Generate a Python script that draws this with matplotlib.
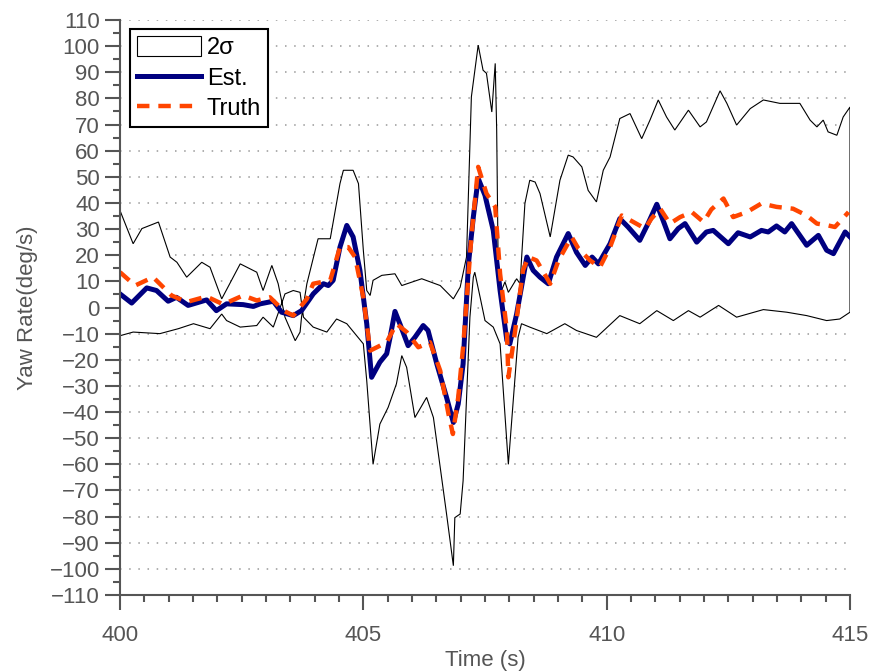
import matplotlib
matplotlib.use("Agg")
import matplotlib.pyplot as plt
from matplotlib.ticker import MultipleLocator

# ---------------- data ----------------
upper_t = [400.00, 400.27, 400.45, 400.79, 401.03, 401.17, 401.37, 401.68, 401.85, 402.09,
           402.47, 402.81, 402.94, 403.12, 403.25, 403.39, 403.60, 403.70, 403.73, 403.84,
           404.07, 404.32, 404.52, 404.59, 404.79, 404.90, 405.00, 405.07, 405.14, 405.20,
           405.38, 405.65, 405.79, 406.20, 406.58, 406.75, 406.85, 406.99, 407.12, 407.22,
           407.36, 407.46, 407.53, 407.64, 407.71, 407.74, 407.77, 407.84, 407.91, 407.98,
           408.15, 408.22, 408.32, 408.42, 408.53, 408.63, 408.84, 409.04, 409.21, 409.31,
           409.49, 409.62, 409.79, 409.93, 410.07, 410.27, 410.48, 410.72, 410.89, 411.06,
           411.23, 411.40, 411.68, 411.92, 412.05, 412.33, 412.47, 412.67, 412.95, 413.22,
           413.56, 413.97, 414.18, 414.32, 414.45, 414.55, 414.73, 414.86, 415.00]
upper_v = [37.1, 24.4, 30.2, 32.7, 19.3, 17.3, 11.6, 17.3, 15.4, 3.3,
           16.7, 13.5, 6.5, 16.1, 9.1, -3.7, -12.7, -9.4, -3.7, 9.1,
           26.3, 26.3, 47.4, 52.5, 52.5, 47.4, 21.9, 6.5, 4.6, 10.4,
           12.3, 12.9, 8.4, 11.0, 8.4, 5.2, 3.3, 7.8, 19.3, 80.6,
           100.4, 90.8, 89.6, 74.8, 93.4, 67.9, 16.7, 6.5, 9.8, 5.8,
           11.0, 9.1, 39.8, 48.7, 48.0, 43.6, 27.0, 48.7, 58.3, 57.6,
           53.8, 44.8, 40.4, 52.5, 57.6, 72.3, 74.2, 64.6, 71.7, 79.4,
           72.9, 67.9, 75.5, 69.1, 71.0, 82.9, 78.1, 69.8, 76.1, 79.4,
           78.1, 78.1, 71.7, 69.1, 71.7, 67.2, 65.9, 72.9, 76.7]

lower_t = [400.00, 400.27, 400.82, 401.20, 401.51, 401.85, 402.09, 402.19, 402.47, 402.81,
           402.94, 403.15, 403.39, 403.56, 403.70, 403.77, 403.97, 404.25, 404.45, 404.66,
           405.00, 405.07, 405.20, 405.34, 405.51, 405.68, 405.79, 405.89, 406.06, 406.30,
           406.44, 406.58, 406.71, 406.85, 406.88, 406.99, 407.05, 407.19, 407.26, 407.29,
           407.40, 407.50, 407.67, 407.81, 407.98, 408.18, 408.25, 408.42, 408.77, 409.14,
           409.38, 409.79, 410.27, 410.68, 411.03, 411.37, 411.68, 411.92, 412.30, 412.67,
           413.22, 413.70, 414.11, 414.52, 414.79, 415.00]
lower_v = [-10.8, -9.4, -10.0, -8.1, -6.2, -8.1, -2.5, -5.0, -7.5, -6.9,
           -3.7, -7.5, 5.2, 6.5, 5.8, -3.7, -7.5, -9.4, -4.4, -6.2,
           -13.9, -28.0, -60.0, -44.6, -38.2, -29.2, -18.4, -22.9, -42.1, -34.4,
           -42.1, -61.2, -79.0, -98.8, -80.4, -79.0, -66.3, -3.7, 11.6, 13.5,
           3.9, -5.0, -7.5, -13.9, -60.0, -11.4, -6.2, -7.5, -10.0, -6.2,
           -8.8, -11.4, -3.1, -6.2, -1.2, -5.0, -1.2, -3.7, 0.8, -3.7,
           -0.8, -1.8, -3.1, -5.0, -4.4, -1.8]

est_t = [400.00, 400.24, 400.55, 400.75, 400.99, 401.16, 401.40, 401.78, 401.98, 402.19,
         402.53, 402.74, 402.88, 403.15, 403.32, 403.56, 403.73, 403.90, 403.97, 404.18,
         404.28, 404.38, 404.52, 404.66, 404.79, 404.93, 405.07, 405.17, 405.34, 405.48,
         405.55, 405.65, 405.75, 405.92, 406.06, 406.23, 406.33, 406.51, 406.71, 406.85,
         406.95, 407.05, 407.16, 407.26, 407.36, 407.50, 407.67, 407.81, 407.95, 408.01,
         408.15, 408.36, 408.49, 408.63, 408.80, 408.97, 409.21, 409.38, 409.56, 409.70,
         409.83, 410.07, 410.27, 410.44, 410.68, 410.85, 411.03, 411.16, 411.30, 411.47,
         411.61, 411.85, 412.05, 412.19, 412.50, 412.70, 412.95, 413.18, 413.32, 413.49,
         413.66, 413.80, 414.11, 414.35, 414.52, 414.66, 414.90, 415.00]
est_v = [5.2, 1.7, 7.5, 6.5, 2.4, 3.9, 0.8, 2.9, -1.2, 1.4,
         1.1, 0.4, 1.4, 2.4, -1.8, -3.1, -1.2, 3.3, 5.2, 9.1,
         8.4, 10.4, 23.1, 31.4, 27.0, 14.2, -6.2, -26.7, -20.9, -17.7,
         -11.4, -1.5, -6.2, -14.6, -11.4, -6.9, -8.8, -21.6, -34.4, -44.0,
         -36.9, -21.6, 16.7, 34.6, 49.4, 42.9, 29.5, 6.5, -12.7, -13.9,
         -2.5, 19.3, 14.2, 11.6, 9.1, 19.3, 28.3, 21.1, 16.1, 19.3,
         16.7, 24.4, 34.0, 30.8, 25.7, 32.1, 39.5, 33.3, 26.3, 30.2,
         32.1, 25.0, 28.9, 29.5, 24.4, 28.6, 27.0, 29.5, 28.9, 31.2,
         28.9, 32.1, 23.8, 27.6, 21.9, 20.6, 28.9, 27.0]

truth_t = [400.00, 400.31, 400.68, 401.06, 401.37, 401.78, 402.12, 402.53, 402.81, 403.08,
           403.36, 403.56, 403.84, 403.97, 404.32, 404.52, 404.69, 404.83, 405.00, 405.14,
           405.28, 405.48, 405.68, 405.89, 406.13, 406.37, 406.58, 406.75, 406.84, 406.95,
           407.05, 407.22, 407.36, 407.53, 407.71, 407.81, 407.95, 407.98, 408.12, 408.28,
           408.39, 408.56, 408.84, 409.01, 409.28, 409.42, 409.66, 409.86, 410.07, 410.31,
           410.55, 410.79, 410.92, 411.10, 411.30, 411.51, 411.75, 411.99, 412.15, 412.40,
           412.60, 412.88, 413.18, 413.49, 413.83, 414.11, 414.32, 414.55, 414.69, 414.97]
truth_v = [13.5, 8.4, 11.6, 4.6, 2.1, 4.2, 1.2, 4.6, 2.7, 3.9,
           -1.2, -3.1, 3.3, 9.1, 10.4, 23.1, 23.1, 19.3, 3.9, -16.5,
           -15.2, -13.3, -6.2, -9.4, -15.2, -13.3, -24.2, -40.8, -48.4, -34.4,
           -15.2, 27.0, 53.8, 43.6, 38.5, 12.9, -8.8, -26.7, -8.8, 14.2,
           19.3, 18.0, 9.1, 18.0, 27.0, 22.5, 18.0, 15.4, 23.1, 35.2,
           32.7, 30.2, 34.0, 37.8, 32.1, 34.6, 36.5, 32.7, 37.5, 41.7,
           34.6, 36.5, 39.8, 38.5, 37.8, 35.2, 32.1, 31.4, 30.8, 36.5]

x_ticks = [400, 405, 410, 415]
y_ticks = list(range(-110, 111, 10))
labels = ["2\u03c3", "Est.", "Truth"]

# ---------------- figure ----------------
plt.rcParams['font.family'] = ['Liberation Sans', 'DejaVu Sans']
fig = plt.figure(figsize=(8.76, 6.71), dpi=100)
ax = fig.add_axes([120 / 876, 1 - 595 / 671, 730 / 876, 575 / 671])

gray = '#555555'

# 2-sigma band drawn as a closed polygon (white face, thin black edge)
poly_t = upper_t + lower_t[::-1]
poly_v = upper_v + lower_v[::-1]
band = ax.fill(poly_t, poly_v, facecolor='white', edgecolor='black',
               linewidth=0.8, zorder=2, label=labels[0])[0]
est_line, = ax.plot(est_t, est_v, color='#000080', linewidth=3.6,
                    solid_joinstyle='round', zorder=3, label=labels[1])
truth_line, = ax.plot(truth_t, truth_v, color='#FF4500', linewidth=3.2,
                      dashes=(2.8, 2.0), zorder=4, label=labels[2])

ax.set_xlim(400, 415)
ax.set_ylim(-110, 110)
ax.set_xticks(x_ticks)
ax.set_yticks(y_ticks)
ax.xaxis.set_minor_locator(MultipleLocator(0.5))
ax.yaxis.set_minor_locator(MultipleLocator(5))

for s in ['top', 'right']:
    ax.spines[s].set_visible(False)
for s in ['left', 'bottom']:
    ax.spines[s].set_color(gray)
    ax.spines[s].set_linewidth(1.5)
    ax.spines[s].set_zorder(5)

ax.tick_params(which='major', direction='out', length=10.5, width=1.5,
               color=gray, labelcolor=gray, labelsize=16, pad=4)
ax.tick_params(axis='x', which='major', pad=11)
ax.tick_params(which='minor', direction='out', length=4.7, width=1.5, color=gray)

ax.yaxis.grid(True, which='major', linestyle=(0, (1, 5)), color='#999999', linewidth=1.1)
ax.set_axisbelow(True)

ax.set_xlabel('Time (s)', fontsize=16, color=gray, labelpad=3)
ax.set_ylabel('Yaw Rate(deg/s)', fontsize=16, color=gray, labelpad=8)

leg = ax.legend(handles=[band, est_line, truth_line], labels=labels,
                loc='upper left', bbox_to_anchor=(10 / 730, 1 - 9 / 575),
                borderaxespad=0, fontsize=17, frameon=True, fancybox=False,
                framealpha=1, edgecolor='black', handlelength=2.7,
                handleheight=0.9, handletextpad=0.25, labelspacing=0.32,
                borderpad=0.3)
leg.get_frame().set_linewidth(1.5)
leg.set_zorder(6)

fig.savefig('out.png', dpi=100)
